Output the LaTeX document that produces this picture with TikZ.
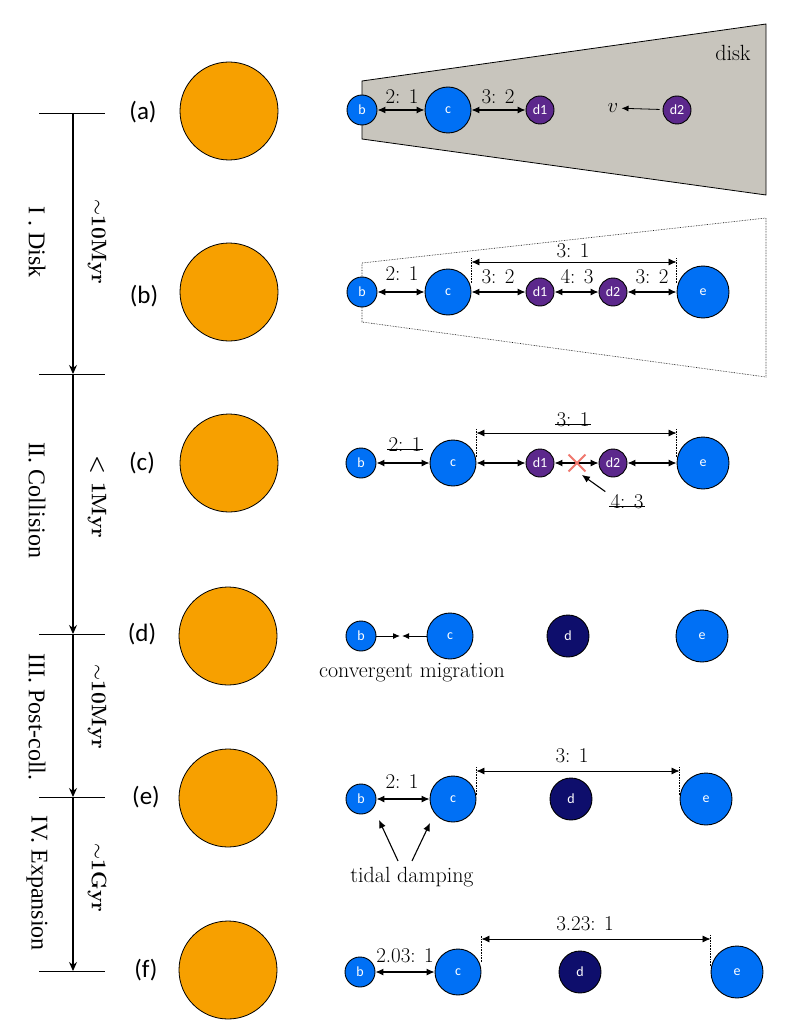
\documentclass[tikz,border=0pt]{standalone}
\usepackage{fontspec}
\newfontfamily\carlito{Carlito}
\newfontfamily\timesf{Liberation Serif}
\usetikzlibrary{arrows.meta,shapes.misc}
\definecolor{starc}{RGB}{247,160,0}
\definecolor{plblue}{RGB}{0,112,245}
\definecolor{plpurple}{RGB}{92,40,140}
\definecolor{plnavy}{RGB}{14,14,108}
\definecolor{diskc}{RGB}{200,197,189}
\definecolor{xred}{RGB}{240,120,110}
\tikzset{
  star/.style={circle, draw=black, line width=0.8pt, fill=starc, minimum size=98pt, inner sep=0pt},
  planet/.style={circle, draw=black, line width=0.9pt, inner sep=0pt, text=white, font=\carlito\fontsize{14}{14}\selectfont},
  pb/.style={planet, fill=plblue, minimum size=30pt},
  pc/.style={planet, fill=plblue, minimum size=46pt},
  pe/.style={planet, fill=plblue, minimum size=52pt},
  pdd/.style={planet, fill=plpurple, minimum size=28pt},
  pnav/.style={planet, fill=plnavy, minimum size=42pt},
  ratio/.style={font=\fontsize{21}{21}\selectfont, inner sep=1pt},
  res/.style={{Latex[length=8pt,width=7pt]}-{Latex[length=8pt,width=7pt]}, line width=1.1pt},
  dimarr/.style={{Latex[length=8pt,width=7pt]}-{Latex[length=8pt,width=7pt]}, line width=0.8pt},
  guide/.style={densely dotted, line width=0.6pt},
  panel/.style={font=\carlito\fontsize{25}{25}\selectfont},
  phase/.style={rotate=-90, font=\timesf\fontsize{24}{24}\selectfont},
  dur/.style={rotate=-90, font=\bfseries\fontsize{21}{21}\selectfont},
  tl/.style={line width=1.1pt, -{Stealth[length=9pt,width=8pt,inset=3pt]}},
  tick/.style={line width=0.8pt},
  pointer/.style={line width=1.1pt, -{Latex[length=8pt,width=7pt]}},
  strike/.style={line width=0.8pt},
  note/.style={font=\fontsize{22}{22}\selectfont, inner sep=1pt}
}
\begin{document}
\begin{tikzpicture}[x=1pt,y=-1pt]
\useasboundingbox (0,0) rectangle (796,1024);
\fill[white] (0,0) rectangle (796,1024);

% ---------- timeline ----------
\coordinate (t0) at (73,113);
\coordinate (t1) at (73,374);
\coordinate (t2) at (73,634);
\coordinate (t3) at (73,797);
\coordinate (t4) at (73,971);
\foreach \t in {t0,t1,t2,t3,t4}{
  \draw[tick] (\t) ++(-34,0) coordinate (\t l) -- ++(66,0) coordinate (\t r);
}
\draw[tl] (t0) -- (t1);
\draw[tl] (t1) -- (t2);
\draw[tl] (t2) -- (t3);
\draw[tl] (t3) -- (t4);
\node[phase] (ph1) at (37,242) {I . Disk};
\node[dur]   (du1) at (97,242) {$\sim$10Myr};
\node[phase] (ph2) at (37,500) {II. Collision};
\node[dur]   (du2) at (97,497) {< 1Myr};
\node[phase] (ph3) at (37,717) {III. Post-coll.};
\node[dur]   (du3) at (97,707) {$\sim$10Myr};
\node[phase] (ph4) at (37,883) {IV. Expansion};
\node[dur]   (du4) at (97,878) {$\sim$1Gyr};

% ---------- stars and panel labels ----------
\node[star] (sa) at (229,111) {};
\node[star] (sb) at (229,292) {};
\node[star] (sc) at (229,463) {};
\node[star] (sd) at (228,636) {};
\node[star] (se) at (228,798) {};
\node[star] (sf) at (228,970) {};
\node[panel] (la) at (143,112) {(a)};
\node[panel] (lb) at (144,296) {(b)};
\node[panel] (lc) at (142,463) {(c)};
\node[panel] (ld) at (142,634) {(d)};
\node[panel] (le) at (146,797) {(e)};
\node[panel] (lf) at (146,970) {(f)};

% ---------- row (a) ----------
\filldraw[fill=diskc, draw=black, line width=0.8pt] (362,139) -- (362,81) -- (766,24) -- (766,195) -- cycle;
\node[note] (disk) at (733,53) {disk};
\node[pb]  (ab)  at (362,110) {b};
\node[pc]  (ac)  at (448,110) {c};
\node[pdd] (ad1) at (540,110) {d1};
\node[pdd] (ad2) at (677,110) {d2};
\node[font=\fontsize{22}{22}\selectfont, inner sep=1pt] (av) at (613,108) {$v$};
\draw[res] (ab) -- (ac);
\draw[res] (ac) -- (ad1);
\draw[line width=0.8pt, -{Latex[length=7pt,width=6pt]}, shorten <=3pt, shorten >=2pt] (ad2) -- (av);
\node[ratio] (a21) at (402,97) {2: 1};
\node[ratio] (a32) at (498,97) {3: 2};

% ---------- row (b) ----------
\draw[guide] (362,322) -- (362,263) -- (766,218) -- (766,377) -- cycle;
\node[pb]  (bb)  at (362,292) {b};
\node[pc]  (bc)  at (448,292) {c};
\node[pdd] (bd1) at (540,292) {d1};
\node[pdd] (bd2) at (613,292) {d2};
\node[pe]  (be)  at (703,292) {e};
\draw[res] (bb) -- (bc);
\draw[res] (bc) -- (bd1);
\draw[res] (bd1) -- (bd2);
\draw[res] (bd2) -- (be);
\draw[guide] (bc.east) ++(0,-9) -- ++(0,-25) coordinate (b31l);
\draw[guide] (be.west) ++(0,-9) -- ++(0,-25) coordinate (b31r);
\draw[dimarr] ([yshift=-4pt]b31l) -- ([yshift=-4pt]b31r);
\node[ratio] (b21)  at (402,274) {2: 1};
\node[ratio] (b32a) at (498,277) {3: 2};
\node[ratio] (b43)  at (577,277) {4: 3};
\node[ratio] (b32b) at (652,277) {3: 2};
\node[ratio] (b31)  at (573,251) {3: 1};

% ---------- row (c) ----------
\node[pb]  (cb)  at (361,463) {b};
\node[pc]  (cc)  at (453,463) {c};
\node[pdd] (cd1) at (540,463) {d1};
\node[pdd] (cd2) at (613,463) {d2};
\node[pe]  (ce)  at (703,463) {e};
\draw[res] (cb) -- (cc);
\draw[res] (cc) -- (cd1);
\draw[res] (cd1) -- (cd2);
\draw[res] (cd2) -- (ce);
\node[cross out, draw=xred, line width=1.8pt, minimum size=15pt, inner sep=0pt] (cx) at (577,463) {};
\draw[guide] (cc.east) ++(0,-6) -- ++(0,-28) coordinate (c31l);
\draw[guide] (ce.west) ++(0,-6) -- ++(0,-28) coordinate (c31r);
\draw[dimarr] ([yshift=-4pt]c31l) -- ([yshift=-4pt]c31r);
\node[ratio] (c21) at (405,445) {2: 1};
\draw[strike] (c21.mid west) -- (c21.mid east);
\node[ratio] (c31) at (573,420) {3: 1};
\draw[strike] (c31.mid west) -- (c31.mid east);
\node[ratio] (c43) at (627,502) {4: 3};
\draw[strike] (c43.mid west) -- (c43.mid east);
\draw[pointer, shorten >=6pt] ([xshift=-4pt,yshift=2pt]c43.north west) -- (cx.south);

% ---------- row (d) ----------
\node[pb]   (db) at (361,636) {b};
\node[pc]   (dc) at (450,636) {c};
\node[pnav] (dd) at (568,636) {d};
\node[pe]   (de) at (702,636) {e};
\coordinate (dmeet) at (401,636);
\draw[line width=1pt, -{Latex[length=7pt,width=6pt]}, shorten >=1pt] (db) -- (dmeet);
\draw[line width=1pt, -{Latex[length=7pt,width=6pt]}, shorten >=1pt] (dc) -- (dmeet);
\node[note] (conv) at (412,673) {convergent migration};

% ---------- row (e) ----------
\node[pb]   (eb) at (361,799) {b};
\node[pc]   (ec) at (453,799) {c};
\node[pnav] (ed) at (571,799) {d};
\node[pe]   (ee) at (706,799) {e};
\draw[res] (eb) -- (ec);
\draw[guide] (ec.east) ++(0,-4) -- ++(0,-28) coordinate (e31l);
\draw[guide] (ee.west) ++(0,-4) -- ++(0,-28) coordinate (e31r);
\draw[dimarr] ([yshift=-4pt]e31l) -- ([yshift=-4pt]e31r);
\node[ratio] (e21) at (402,782) {2: 1};
\node[ratio] (e31) at (572,756) {3: 1};
\node[note] (tidal) at (412,877) {tidal damping};
\coordinate (tdb) at (379,820);
\coordinate (tdc) at (430,823);
\draw[pointer] ([xshift=-14pt,yshift=5pt]tidal.north) -- (tdb);
\draw[pointer] ([xshift=0pt,yshift=5pt]tidal.north) -- (tdc);

% ---------- row (f) ----------
\node[pb]   (fb) at (360,972) {b};
\node[pc]   (fc) at (458,972) {c};
\node[pnav] (fd) at (580,972) {d};
\node[pe]   (fe) at (737,972) {e};
\draw[res] (fb) -- (fc);
\draw[guide] (fc.east) ++(0,-10) -- ++(0,-27) coordinate (f31l);
\draw[guide] (fe.west) ++(0,-6) -- ++(0,-31) coordinate (f31r);
\draw[dimarr] ([yshift=-4pt]f31l) -- ([yshift=-4pt]f31r);
\node[ratio] (f21) at (405,956) {2.03: 1};
\node[ratio] (f31) at (585,924) {3.23: 1};
\end{tikzpicture}
\end{document}
